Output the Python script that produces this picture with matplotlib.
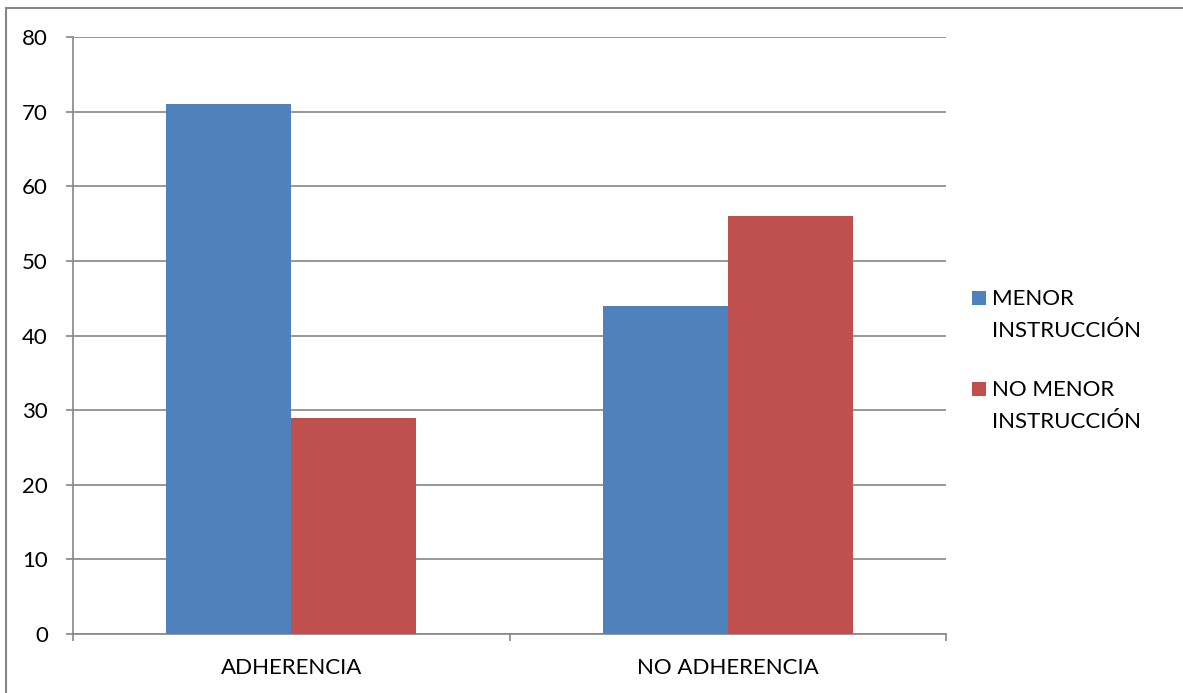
import matplotlib.pyplot as plt
import numpy as np
from matplotlib.patches import Rectangle

categories = ["ADHERENCIA", "NO ADHERENCIA"]
menor = [71, 44]
no_menor = [29, 56]
series_labels = ["MENOR\nINSTRUCCIÓN", "NO MENOR\nINSTRUCCIÓN"]

BLUE = "#4F81BD"
RED = "#C0504D"
GRID = "#868686"

plt.rcParams["font.family"] = ["Lato", "DejaVu Sans"]

W, H = 1183, 693
fig = plt.figure(figsize=(W / 100, H / 100), dpi=100)
ax = fig.add_axes([73 / W, 1 - 634 / H, (946 - 73) / W, (634 - 37) / H])

x = np.arange(len(categories))
width = 0.286
ax.bar(x - width / 2, menor, width, color=BLUE, zorder=3)
ax.bar(x + width / 2, no_menor, width, color=RED, zorder=3)

ax.set_xlim(-0.5, 1.5)
ax.set_ylim(0, 80)
ax.set_yticks(range(0, 81, 10))
ax.yaxis.grid(True, color=GRID, linewidth=1.2, zorder=0)

# category labels sit between the boundary ticks
ax.set_xticks([-0.5, 0.5, 1.5])
ax.set_xticklabels([])
ax.set_xticks(x, minor=True)
ax.set_xticklabels(categories, minor=True)
ax.tick_params(axis="x", which="minor", length=0, pad=17, labelsize=16)
ax.tick_params(axis="x", which="major", length=5, color=GRID, width=1.2)
ax.tick_params(axis="y", length=5, color=GRID, width=1.2, pad=13, labelsize=16)

for side in ("top", "right"):
    ax.spines[side].set_visible(False)
for side in ("left", "bottom"):
    ax.spines[side].set_color(GRID)
    ax.spines[side].set_linewidth(1.2)

# legend: square key beside the first line of each label
key_y = [298, 389]
for label, color, yk in zip(series_labels, [BLUE, RED], key_y):
    fig.patches.append(Rectangle((972 / W, 1 - (yk + 7) / H), 14 / W, 14 / H,
                                 transform=fig.transFigure, facecolor=color,
                                 edgecolor="none"))
    fig.text(992 / W, 1 - (yk - 9) / H, label, fontsize=16, va="top",
             ha="left", linespacing=1.75)

# chart border
fig.patches.append(Rectangle((6 / W, -0.05), 1.1, 1 - 8 / H + 0.05,
                             transform=fig.transFigure, fill=False,
                             edgecolor=GRID, linewidth=1.5))

fig.savefig("out.png", dpi=100)
